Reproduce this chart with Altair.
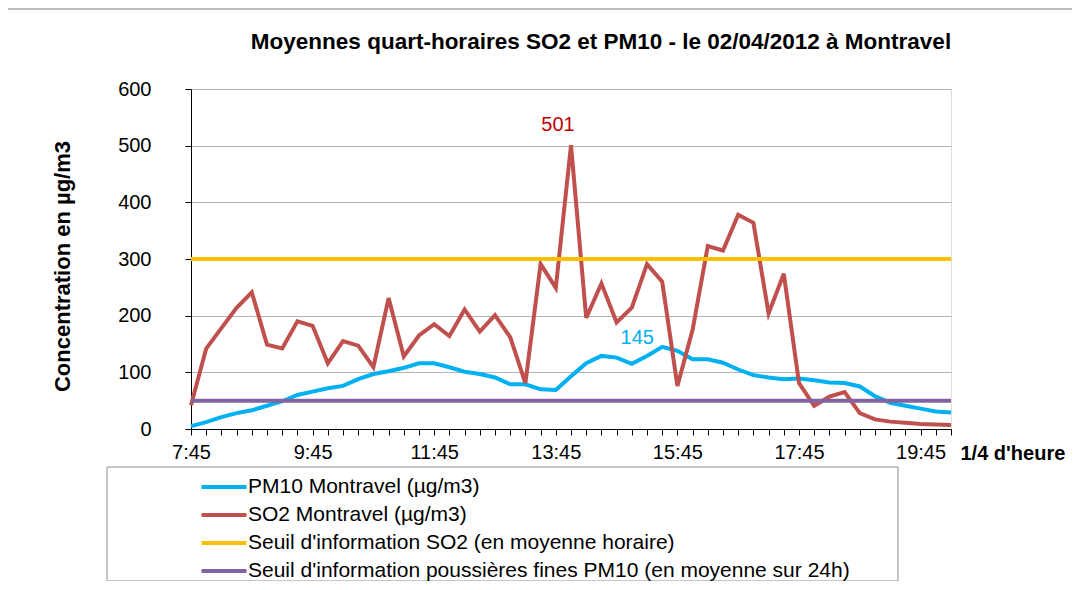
import altair as alt
import pandas as pd

times = ["7:45", "8:00", "8:15", "8:30", "8:45", "9:00", "9:15", "9:30", "9:45", "10:00",
         "10:15", "10:30", "10:45", "11:00", "11:15", "11:30", "11:45", "12:00", "12:15", "12:30",
         "12:45", "13:00", "13:15", "13:30", "13:45", "14:00", "14:15", "14:30", "14:45", "15:00",
         "15:15", "15:30", "15:45", "16:00", "16:15", "16:30", "16:45", "17:00", "17:15", "17:30",
         "17:45", "18:00", "18:15", "18:30", "18:45", "19:00", "19:15", "19:30", "19:45", "20:00",
         "20:15"]
tick_labels = ["7:45", "9:45", "11:45", "13:45", "15:45", "17:45", "19:45"]

pm10 = [5, 12, 21, 28, 33, 41, 49, 60, 66, 72,
        76, 88, 97, 102, 108, 116, 116, 109, 101, 97,
        91, 79, 79, 70, 69, 93, 116, 129, 126, 115,
        129, 145, 138, 123, 123, 117, 105, 95, 91, 88,
        89, 86, 82, 81, 75, 58, 46, 41, 36, 31,
        29]
so2 = [42, 142, 178, 214, 241, 149, 142, 190, 182, 116,
       155, 147, 109, 231, 128, 165, 185, 164, 211, 172,
       201, 162, 81, 291, 249, 501, 196, 257, 188, 214,
       291, 260, 76, 175, 323, 315, 378, 364, 204, 274,
       81, 41, 57, 65, 28, 17, 13, 11, 9, 8,
       7]
seuil_so2 = 300
seuil_pm10 = 50

series_names = ["PM10 Montravel (µg/m3)", "SO2 Montravel (µg/m3)",
                "Seuil d'information SO2 (en moyenne horaire)",
                "Seuil d'information poussières fines PM10 (en moyenne sur 24h)"]
series_colors = ["#00B0F0", "#C0504D", "#FFC000", "#8064A2"]

rows = []
for i, t in enumerate(times):
    rows.append({"t": t, "v": pm10[i], "s": series_names[0], "o": 0})
    rows.append({"t": t, "v": so2[i], "s": series_names[1], "o": 1})
    rows.append({"t": t, "v": seuil_so2, "s": series_names[2], "o": 2})
    rows.append({"t": t, "v": seuil_pm10, "s": series_names[3], "o": 3})
df = pd.DataFrame(rows)

so2_peak = pd.DataFrame([{"t": times[so2.index(max(so2))], "v": max(so2), "lab": str(max(so2))}])
pm10_peak = pd.DataFrame([{"t": times[pm10.index(max(pm10))], "v": max(pm10), "lab": str(max(pm10))}])

FONT = "Liberation Sans"
label_list = "[" + ",".join("'" + l + "'" for l in tick_labels) + "]"

x_enc = alt.X("t:O", sort=times, scale=alt.Scale(type="point", padding=0),
              axis=alt.Axis(title="1/4 d'heure", labelAngle=0, grid=False,
                            labelExpr="indexof(" + label_list + ", datum.value) >= 0 ? datum.label : ''",
                            labelOverlap=False, domainColor="#000000", tickColor="#000000",
                            tickSize=6, labelPadding=7, labelFontSize=20, labelColor="#000000",
                            labelFont=FONT, titleFont=FONT, titleFontSize=20, titleFontWeight="bold",
                            titleColor="#000000", titleX=769, titleY=24, titleAlign="left",
                            titleBaseline="middle", titleAnchor="start"))
y_enc = alt.Y("v:Q", scale=alt.Scale(domain=[0, 600]),
              axis=alt.Axis(title="Concentration en µg/m3", values=[0, 100, 200, 300, 400, 500, 600],
                            grid=True, gridColor="#B4B4B4", gridWidth=1, domainColor="#000000",
                            tickColor="#000000", tickSize=6, labelPadding=34, labelFontSize=20,
                            labelColor="#000000", labelFont=FONT, titleFont=FONT, titleFontSize=22,
                            titleFontWeight="bold", titleColor="#000000", titleX=-129, titleY=177,
                            titleAngle=270, titleBaseline="middle", titleAlign="center"))

color_enc = alt.Color("s:N", scale=alt.Scale(domain=series_names, range=series_colors),
                      legend=alt.Legend(title=None, orient="none", legendX=16, legendY=381,
                                        symbolType="M-1.5,0H1.5", symbolStrokeWidth=4, symbolSize=900,
                                        labelFontSize=21, labelFont=FONT, labelColor="#000000",
                                        rowPadding=1, labelOffset=7, labelLimit=900, padding=0))

box = alt.Chart(pd.DataFrame({"k": [0]})).mark_rect(fill="white", stroke="#8C8C8C", strokeWidth=1).encode(
    x=alt.value(-84), x2=alt.value(707), y=alt.value(378), y2=alt.value(492))
frame = alt.Chart(pd.DataFrame({"k": [0]})).mark_rect(fill=None, stroke="#A6A6A6", strokeWidth=1.5).encode(
    x=alt.value(-185), x2=alt.value(1000), y=alt.value(-80), y2=alt.value(600))

data_lines = alt.Chart(df).transform_filter("datum.o < 2").mark_line(strokeWidth=4, clip=False).encode(
    x=x_enc, y=y_enc, color=color_enc, detail="s:N")
seuil_lines = alt.Chart(df).transform_filter("datum.o >= 2").mark_line(strokeWidth=4, clip=False).encode(
    x=x_enc, y=y_enc, color=color_enc, detail="s:N")

so2_text = alt.Chart(so2_peak).mark_text(color="#C00000", fontSize=20, font=FONT, dx=-13, dy=-20,
                                         baseline="middle").encode(x=x_enc, y=y_enc, text="lab:N")
pm10_text = alt.Chart(pm10_peak).mark_text(color="#00B0F0", fontSize=20, font=FONT, dx=-25, dy=-9,
                                           baseline="middle").encode(x=x_enc, y=y_enc, text="lab:N")

chart = alt.layer(frame, box, data_lines, seuil_lines, so2_text, pm10_text).properties(
    width=760, height=340,
    title=alt.Title("Moyennes quart-horaires SO2 et PM10  -  le 02/04/2012 à Montravel",
                    font=FONT, fontSize=22.5, fontWeight="bold", color="#000000",
                    anchor="middle", frame="group", dx=30, offset=-45),
    autosize=alt.AutoSizeParams(type="none"),
    padding={"left": 183, "top": 81, "right": 121, "bottom": 152},
).configure_view(stroke=None).configure(background="white")

chart.save("out.html", embed_options={"renderer": "svg", "actions": False})
